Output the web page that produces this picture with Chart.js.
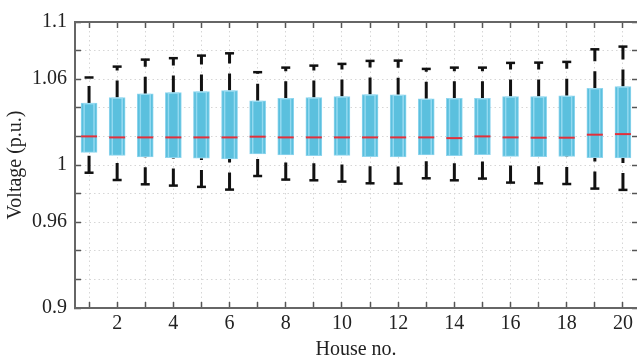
<!DOCTYPE html>
<html lang="en">
  <head>
    <meta charset="UTF-8" />
    <title>Voltage per house</title>
    <script src="https://cdn.jsdelivr.net/npm/chart.js"></script>
    <style>
      body { margin: 0; background: #fff; }
      .chart { width: 637px; height: 363px; }
    </style>
  </head>
  <body>
    <div class="chart">
      <canvas id="voltageChart"></canvas>
    </div>

<script>
  // houses on the x axis
  const houses = [1, 2, 3, 4, 5, 6, 7, 8, 9, 10, 11, 12, 13, 14, 15, 16, 17, 18, 19, 20];
  const housesLabelled = [2, 4, 6, 8, 10, 12, 14, 16, 18, 20];

  // voltage ticks (p.u.)
  const voltTicks = [0.9, 0.92, 0.94, 0.96, 0.98, 1, 1.02, 1.04, 1.06, 1.08, 1.1];
  const voltLabelled = [0.9, 0.96, 1, 1.06, 1.1];

  // box plot statistics per house
  const whiskerHigh = [1.0612, 1.0688, 1.0737, 1.0747, 1.0765, 1.0781, 1.0649, 1.0681, 1.0695, 1.0707,
                       1.0728, 1.0730, 1.0672, 1.0681, 1.0681, 1.0714, 1.0716, 1.0721, 1.0809, 1.0828];
  const quart3 = [1.0433, 1.0472, 1.0498, 1.0507, 1.0514, 1.0521, 1.0449, 1.0467, 1.0472, 1.0479,
                  1.0493, 1.0491, 1.0463, 1.0467, 1.0467, 1.0479, 1.0479, 1.0484, 1.0537, 1.0549];
  const medians = [1.0200, 1.0193, 1.0193, 1.0193, 1.0193, 1.0193, 1.0198, 1.0193, 1.0193, 1.0193,
                   1.0193, 1.0193, 1.0193, 1.0188, 1.0200, 1.0193, 1.0191, 1.0191, 1.0212, 1.0216];
  const quart1 = [1.0088, 1.0067, 1.0056, 1.0051, 1.0047, 1.0042, 1.0077, 1.0070, 1.0065, 1.0067,
                  1.0058, 1.0056, 1.0070, 1.0065, 1.0072, 1.0060, 1.0058, 1.0060, 1.0051, 1.0049];
  const whiskerLow = [0.9946, 0.9895, 0.9865, 0.9856, 0.9847, 0.9828, 0.9923, 0.9898, 0.9893, 0.9884,
                      0.9872, 0.9870, 0.9907, 0.9893, 0.9905, 0.9877, 0.9872, 0.9867, 0.9835, 0.9826];

  Chart.defaults.font.family = "'Liberation Serif', 'DejaVu Serif', serif";
  Chart.defaults.font.size = 20;
  Chart.defaults.color = "#222";

  // each whisker is its own sub-path, broken by a null point
  function whiskerPath(from, to) {
    const pts = [];
    houses.forEach((h, i) => {
      pts.push({ x: h, y: from[i] }, { x: h, y: to[i] }, { x: h, y: null });
    });
    return pts;
  }

  const boxes = houses.map((h, i) => ({ x: h, y: [quart1[i], quart3[i]] }));
  const medianPts = houses.map((h, i) => ({ x: h, y: medians[i] }));
  const caps = houses.map((h, i) => ({ x: h, y: whiskerHigh[i] }))
    .concat(houses.map((h, i) => ({ x: h, y: whiskerLow[i] })));

  // fixed axis box sizes, no extra label overhang padding
  function fixSize(w, h) {
    return (s) => {
      if (w !== null) s.width = w;
      if (h !== null) s.height = h;
      s.paddingLeft = s.paddingRight = s.paddingTop = s.paddingBottom = 0;
    };
  }

  const gridStyle = {
    color: "#d6d6d6",
    lineWidth: 1,
    tickLength: -6,
    tickColor: "#555",
    tickWidth: 1.5,
    offset: false,
  };
  const borderStyle = { color: "#666", width: 2, dash: [1.5, 3] };

  const ctx = document.getElementById("voltageChart").getContext("2d");
  new Chart(ctx, {
    type: "bar",
    data: {
      datasets: [
        {
          label: "median",
          type: "line",
          data: medianPts,
          showLine: false,
          pointStyle: "line",
          pointRadius: 8,
          pointBorderWidth: 2,
          pointBorderColor: "#e3303b",
          order: 0,
        },
        {
          label: "box inner",
          data: boxes,
          grouped: false,
          barThickness: 11,
          backgroundColor: "rgba(0,0,0,0)",
          borderColor: "rgba(160,222,244,0.8)",
          borderWidth: 1,
          order: 1,
        },
        {
          label: "box",
          data: boxes,
          grouped: false,
          barThickness: 16,
          backgroundColor: "#5bc0de",
          borderColor: "#8fd5ee",
          borderWidth: 1,
          borderSkipped: false,
          order: 2,
        },
        {
          label: "upper whisker",
          type: "line",
          data: whiskerPath(quart3, whiskerHigh),
          borderColor: "#111",
          borderWidth: 3,
          borderDash: [17, 10],
          pointRadius: 0,
          spanGaps: false,
          order: 3,
        },
        {
          label: "lower whisker",
          type: "line",
          data: whiskerPath(whiskerLow, quart1),
          borderColor: "#111",
          borderWidth: 3,
          borderDash: [17, 10],
          pointRadius: 0,
          spanGaps: false,
          order: 3,
        },
        {
          label: "caps",
          type: "line",
          data: caps,
          showLine: false,
          pointStyle: "line",
          pointRadius: 4.5,
          pointBorderWidth: 2.5,
          pointBorderColor: "#111",
          order: 3,
        },
      ],
    },
    options: {
      responsive: true,
      maintainAspectRatio: false,
      animation: false,
      layout: { padding: 0, autoPadding: false },
      plugins: {
        legend: { display: false },
        tooltip: { enabled: false },
      },
      scales: {
        x: {
          type: "linear",
          position: "bottom",
          offset: false,
          min: 0.5,
          max: 20.5,
          afterBuildTicks: (s) => { s.ticks = houses.map((v) => ({ value: v })); },
          afterFit: fixSize(null, 55),
          ticks: {
            autoSkip: false,
            maxRotation: 0,
            padding: 10,
            callback: (v) => (housesLabelled.includes(v) ? String(v) : ""),
          },
          grid: gridStyle,
          border: borderStyle,
          title: {
            display: true,
            text: "House no.",
            padding: { top: 0, bottom: 1 },
          },
        },
        xTop: {
          type: "linear",
          position: "top",
          offset: false,
          min: 0.5,
          max: 20.5,
          afterBuildTicks: (s) => { s.ticks = houses.map((v) => ({ value: v })); },
          afterFit: fixSize(null, 22),
          ticks: { display: false },
          grid: Object.assign({}, gridStyle, { drawOnChartArea: false }),
          border: { color: "#666", width: 2 },
        },
        y: {
          type: "linear",
          position: "left",
          min: 0.9,
          max: 1.1,
          afterBuildTicks: (s) => { s.ticks = voltTicks.map((v) => ({ value: v })); },
          afterFit: fixSize(75, null),
          ticks: {
            autoSkip: false,
            padding: 14,
            callback: (v) => (voltLabelled.includes(v) ? String(v) : ""),
          },
          grid: gridStyle,
          border: borderStyle,
          title: {
            display: true,
            text: "Voltage (p.u.)",
            padding: { top: 4, bottom: 0 },
          },
        },
        yRight: {
          type: "linear",
          position: "right",
          min: 0.9,
          max: 1.1,
          afterBuildTicks: (s) => { s.ticks = voltTicks.map((v) => ({ value: v })); },
          afterFit: fixSize(0, null),
          ticks: { display: false },
          grid: Object.assign({}, gridStyle, { drawOnChartArea: false, tickLength: -5 }),
          border: { display: false },
        },
      },
    },
  });
</script>
  </body>
</html>
